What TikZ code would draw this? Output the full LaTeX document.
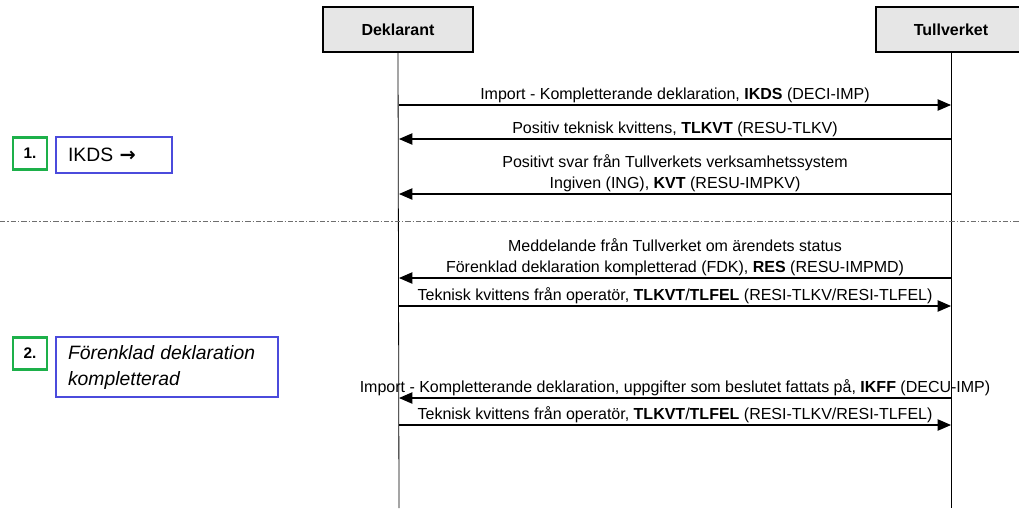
\documentclass[tikz,border=0pt]{standalone}
\usepackage{fontspec}
\setmainfont{Liberation Sans}
\newfontfamily\arrowfont{DejaVu Sans}
\usetikzlibrary{arrows.meta,positioning}
\definecolor{HeadFill}{HTML}{E6E6E6}
\definecolor{StepGreen}{HTML}{1DB04A}
\definecolor{NoteBlue}{HTML}{4B4BDC}
\definecolor{SepGray}{HTML}{6E6E6E}

\begin{document}
\begin{tikzpicture}[
  x=0.75pt,y=-0.75pt,
  party/.style={draw=black,line width=1.4pt,fill=HeadFill,minimum width=112pt,minimum height=33.5pt,inner sep=0pt,font=\fontsize{12}{14}\selectfont\bfseries},
  stepnum/.style={draw=StepGreen,line width=1.6pt,minimum width=26pt,minimum height=24pt,inner sep=0pt,font=\fontsize{11.5}{13}\selectfont\bfseries},
  stepnote/.style={draw=NoteBlue,line width=1pt,anchor=north west,align=left,inner xsep=9pt,inner ysep=0pt},
  lifeline/.style={line width=0.6pt},
  msg/.style={-{Triangle[length=10pt,width=8.5pt]},line width=0.8pt},
  msgtext/.style={above,inner sep=1.2pt,align=center,font=\fontsize{12}{15.5}\selectfont},
  sepline/.style={draw=SepGray,line width=0.5pt,dash pattern=on 4pt off 1.5pt on 1pt off 1.5pt}
]
\useasboundingbox[fill=white] (0,0) rectangle (1019,508);

% parties and lifelines
\node[party] (dekl) at (398,29.5) {Deklarant};
\node[party] (tull) at (951,29.5) {Tullverket};
\coordinate (dekl-end) at (399,508);
\coordinate (tull-end) at (951,508);
\draw[lifeline] (dekl.south) -- (dekl-end);
\draw[lifeline] (tull.south) -- (tull-end);

% message ends on the lifelines
\foreach \n/\y in {1/105,2/139,3/194,4/278,5/306,6/398,7/425}{
  \coordinate (d\n) at (399,\y);
  \coordinate (t\n) at (951,\y);
}

% step 1
\draw[msg] (d1) -- (t1) node[msgtext,midway] {Import - Kompletterande deklaration, \textbf{IKDS} (DECI-IMP)};
\draw[msg] (t2) -- (d2) node[msgtext,midway] {Positiv teknisk kvittens, \textbf{TLKVT} (RESU-TLKV)};
\draw[msg] (t3) -- (d3) node[msgtext,midway] {Positivt svar från Tullverkets verksamhetssystem\\Ingiven (ING), \textbf{KVT} (RESU-IMPKV)};

% separator
\coordinate (sep-w) at (0,221);
\coordinate (sep-e) at (1019,221);
\draw[sepline] (sep-w) -- (sep-e);

% step 2
\draw[msg] (t4) -- (d4) node[msgtext,midway] {Meddelande från Tullverket om ärendets status\\Förenklad deklaration kompletterad (FDK), \textbf{RES} (RESU-IMPMD)};
\draw[msg] (d5) -- (t5) node[msgtext,midway] {Teknisk kvittens från operatör, \textbf{TLKVT}/\textbf{TLFEL} (RESI-TLKV/RESI-TLFEL)};
\draw[msg] (t6) -- (d6) node[msgtext,midway] {Import - Kompletterande deklaration, uppgifter som beslutet fattats på, \textbf{IKFF} (DECU-IMP)};
\draw[msg] (d7) -- (t7) node[msgtext,midway] {Teknisk kvittens från operatör, \textbf{TLKVT}/\textbf{TLFEL} (RESI-TLKV/RESI-TLFEL)};

% step notes
\node[stepnum] (num1) at (30,153.5) {1.};
\node[stepnote,minimum width=87pt,minimum height=27pt,text width=69pt,font=\fontsize{14.5}{17}\selectfont] (note1) at ([xshift=5.25pt]num1.north east) {IKDS {\arrowfont\bfseries →}};
\node[stepnum] (num2) at (30,353.5) {2.};
\node[stepnote,minimum width=166.5pt,minimum height=45pt,text width=148.5pt,font=\fontsize{14.5}{19.5}\selectfont\itshape] (note2) at ([xshift=5.25pt]num2.north east) {Förenklad deklaration\\kompletterad};
\end{tikzpicture}
\end{document}
